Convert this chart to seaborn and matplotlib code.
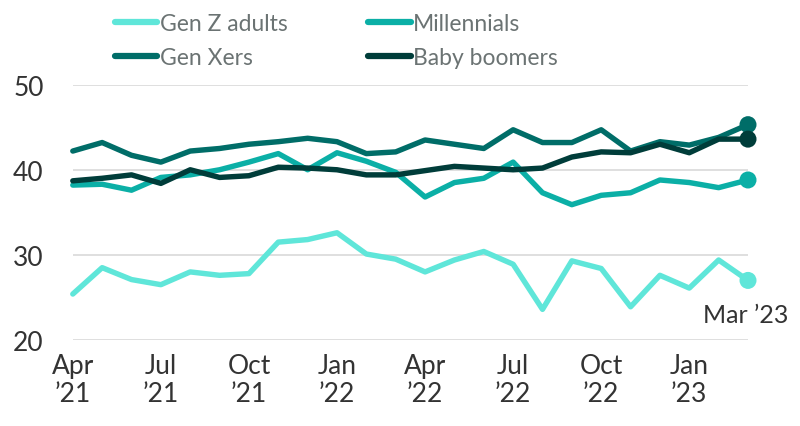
import pandas as pd
import numpy as np
import matplotlib
matplotlib.use("Agg")
import matplotlib.pyplot as plt
import seaborn as sns

# monthly, Apr 2021 .. Mar 2023
months = pd.date_range("2021-04-01", "2023-03-01", freq="MS")

gen_z = [25.4, 28.5, 27.1, 26.5, 28.0, 27.6, 27.8, 31.5, 31.8, 32.6, 30.1, 29.5,
         28.0, 29.4, 30.4, 28.9, 23.6, 29.3, 28.4, 23.9, 27.6, 26.1, 29.4, 27.0]
millennials = [38.2, 38.3, 37.6, 39.1, 39.4, 40.0, 40.9, 41.9, 40.0, 42.0, 41.0, 39.7,
               36.8, 38.5, 39.0, 40.9, 37.3, 35.9, 37.0, 37.3, 38.8, 38.5, 37.9, 38.8]
gen_x = [42.2, 43.2, 41.7, 40.9, 42.2, 42.5, 43.0, 43.3, 43.7, 43.3, 41.9, 42.1,
         43.5, 43.0, 42.5, 44.7, 43.2, 43.2, 44.7, 42.2, 43.3, 42.9, 43.8, 45.3]
boomers = [38.7, 39.0, 39.4, 38.4, 40.0, 39.1, 39.3, 40.3, 40.2, 40.0, 39.4, 39.4,
           39.9, 40.4, 40.2, 40.0, 40.2, 41.5, 42.1, 42.0, 43.0, 42.0, 43.6, 43.6]

series_names = ["Gen Z adults", "Millennials", "Gen Xers", "Baby boomers"]
colors = ["#5fe6d9", "#0bafa6", "#006d68", "#003d3a"]
tick_labels = ["Apr\n\u201921", "Jul\n\u201921", "Oct\n\u201921", "Jan\n\u201922",
               "Apr\n\u201922", "Jul\n\u201922", "Oct\n\u201922", "Jan\n\u201923"]

sns.set_style("white")
plt.rcParams["font.family"] = ["Lato", "DejaVu Sans"]

df = pd.DataFrame({"month": np.arange(len(months)),
                   "Gen Z adults": gen_z, "Millennials": millennials,
                   "Gen Xers": gen_x, "Baby boomers": boomers})
long_df = df.melt(id_vars="month", var_name="group", value_name="value")

fig = plt.figure(figsize=(8, 4.27), dpi=100)
ax = fig.add_axes([0.091, 0.2014, 0.844, 0.598])

sns.lineplot(data=long_df, x="month", y="value", hue="group",
             hue_order=series_names, palette=colors, linewidth=3.9,
             ax=ax, legend=False, clip_on=False, zorder=3)

# end-point dots
last = long_df[long_df["month"] == long_df["month"].max()]
sns.scatterplot(data=last, x="month", y="value", hue="group",
                hue_order=series_names, palette=colors, s=150,
                edgecolor="none", ax=ax, legend=False, clip_on=False, zorder=4)

ax.annotate("Mar \u201923", xy=(df["month"].iloc[-1], gen_z[-1]),
            xytext=(-2, -16), textcoords="offset points", ha="center", va="top",
            fontsize=18, color="#333333", annotation_clip=False)

ax.set_xlim(0, len(months) - 1)
ax.set_ylim(20, 50)
ax.set_yticks([20, 30, 40, 50])
ax.set_xticks(np.arange(0, len(months), 3))
ax.set_xticklabels(tick_labels)
ax.grid(axis="y", color="#dcdcdc", linewidth=1.3, zorder=0)
ax.grid(axis="x", visible=False)
ax.tick_params(axis="both", length=0, labelsize=19, labelcolor="#333333")
ax.tick_params(axis="x", pad=9)
ax.tick_params(axis="y", pad=21)
ax.set_xlabel("")
ax.set_ylabel("")
for s in ax.spines.values():
    s.set_visible(False)
for lbl in ax.get_xticklabels():
    lbl.set_linespacing(1.15)

handles = [plt.Line2D([0], [0], color=c, linewidth=4.5, solid_capstyle="round")
           for c in colors]
# legend fills column-wise, so reorder to get rows: GenZ/Millennials, GenX/Boomers
order = [0, 2, 1, 3]
fig.legend([handles[i] for i in order], [series_names[i] for i in order], ncol=2,
           loc="upper left", bbox_to_anchor=(0.118, 1.015), frameon=False,
           fontsize=16.5, labelcolor="#6b7373", handlelength=1.85,
           handletextpad=0.12, columnspacing=3.5, labelspacing=0.55)

fig.savefig("out.png", dpi=100)
